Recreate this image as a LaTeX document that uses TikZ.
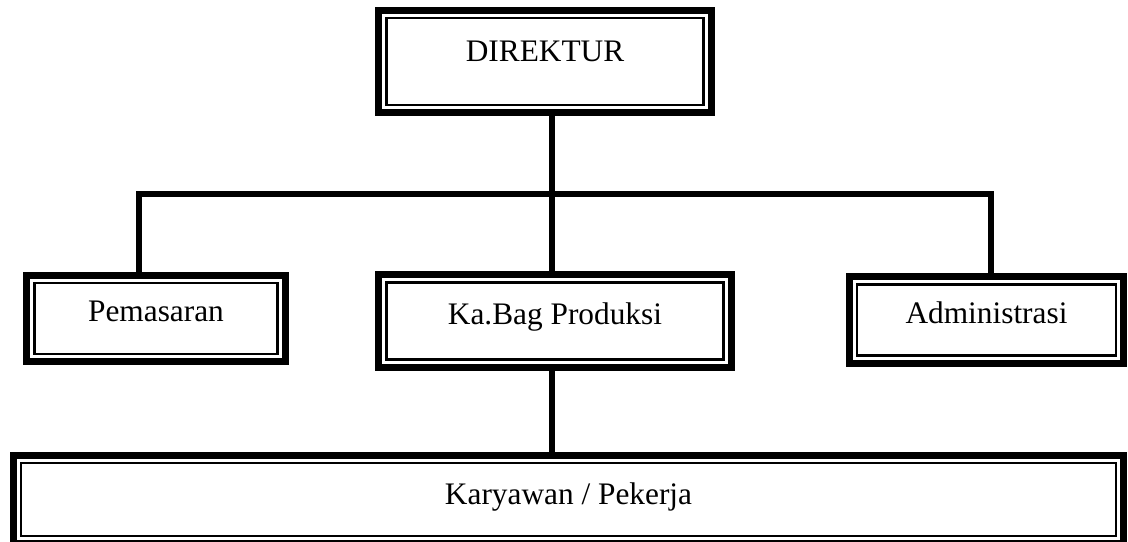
\documentclass[tikz,border=0pt]{standalone}
\usepackage{fontspec}
\setmainfont{Liberation Serif}

\begin{document}
\begin{tikzpicture}[x=0.75pt, y=-0.75pt,
  orgbox/.style={fill=white, draw, line width=1.875pt, inner sep=0pt, outer sep=8.4375pt,
    preaction={draw, line width=16.875pt},
    preaction={draw=white, line width=6.375pt},
    font=\fontsize{23.5}{28}\selectfont, text height=16pt},
  link/.style={line width=4.5pt}]
  \useasboundingbox (0,0) rectangle (1128,542);
  \node[orgbox, minimum width=238.1pt, minimum height=64.9pt, text depth=15.5pt] (dir) at (545,61.5) {DIREKTUR};
  \node[orgbox, minimum width=182.6pt, minimum height=52.9pt, text depth=11pt] (pem) at (156,318.5) {Pemasaran};
  \node[orgbox, minimum width=253.1pt, minimum height=58.1pt, text depth=11pt] (kabag) at (555,321) {Ka.Bag Produksi};
  \node[orgbox, minimum width=193.9pt, minimum height=53.6pt, text depth=11pt] (adm) at (986.5,320) {Administrasi};
  \node[orgbox, minimum width=820.9pt, minimum height=54.4pt, text depth=8.8pt] (kar) at (568.5,499.5) {Karyawan / Pekerja};
  \coordinate (busL) at (139,193.5);
  \coordinate (busR) at (991,193.5);
  \coordinate (trunk) at (551.5,193.5);
  \draw[link] (dir.south -| trunk) -- (kabag.north -| trunk);
  \draw[link] (pem.north -| busL) -- (busL) -- (busR) -- (adm.north -| busR);
  \draw[link] (kabag.south -| trunk) -- (kar.north -| trunk);
\end{tikzpicture}
\end{document}
